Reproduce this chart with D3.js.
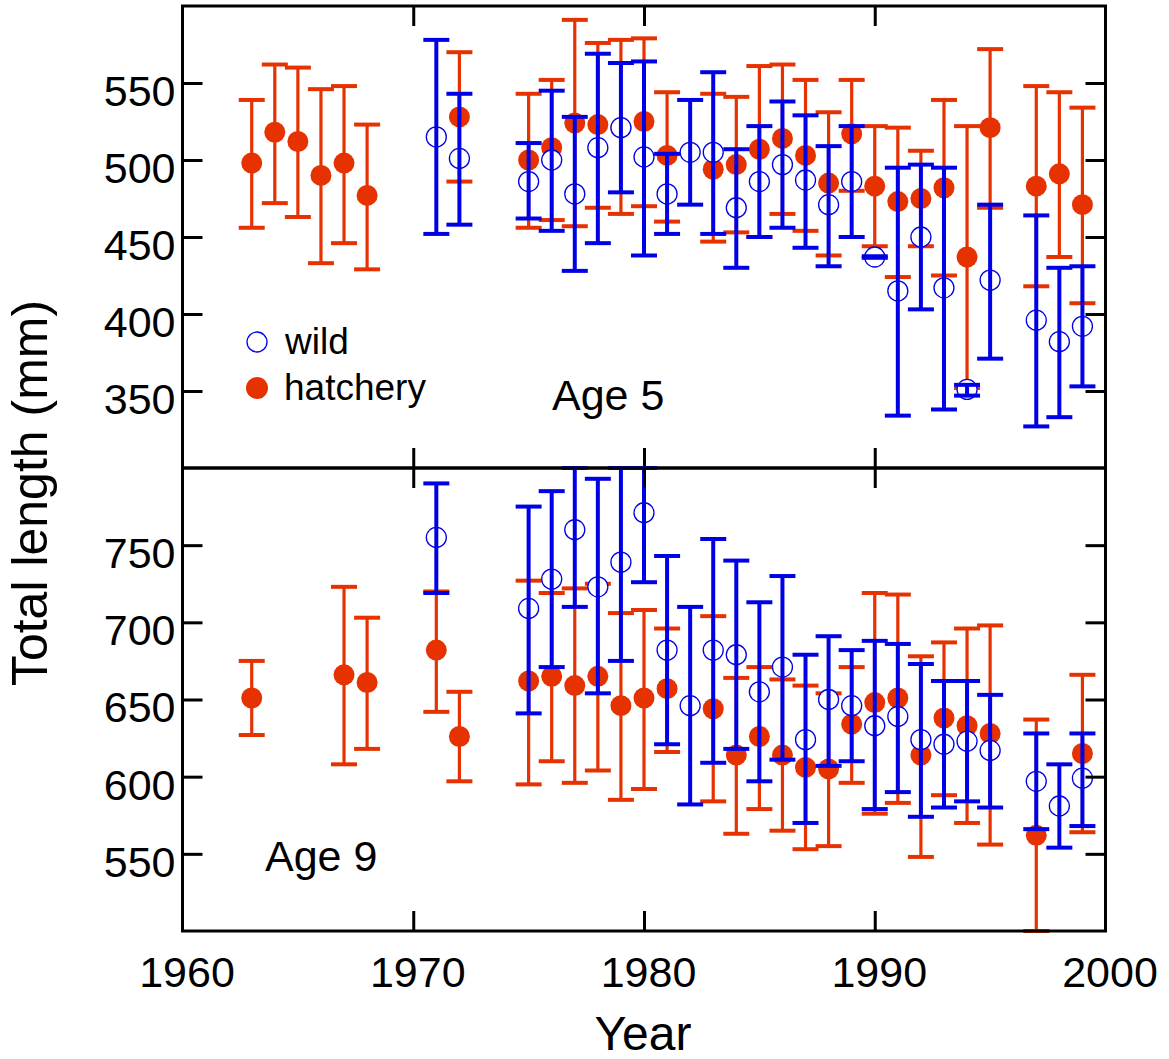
<!DOCTYPE html>
<html>
<head>
<meta charset="utf-8">
<script src="https://cdn.jsdelivr.net/npm/d3@7"></script>
<style>
  body { margin: 0; background: #fff; }
  text { font-family: "Liberation Sans", Arial, sans-serif; fill: #000; }
</style>
</head>
<body>
<div id="chart"></div>
<script>
// ---- data (mean, upper and lower bar ends, mm) ----
const age5HatchYears = [1963, 1964, 1965, 1966, 1967, 1968, 1972, 1975, 1976, 1977, 1978, 1979, 1980, 1981, 1983, 1984, 1985, 1986, 1987, 1988, 1989, 1990, 1991, 1992, 1993, 1994, 1995, 1997, 1998, 1999];
const age5HatchMean = [498, 518, 512, 490, 498, 477, 528, 500, 508, 524, 523, 521, 525, 503, 494, 497, 507, 514, 503, 485, 517, 483, 473, 475, 482, 437, 521, 483, 491, 471];
const age5HatchHi = [539, 562, 560, 546, 548, 523, 570, 543, 552, 591, 576, 578, 579, 544, 543, 541, 561, 562, 552, 531, 552, 522, 521, 506, 539, 522, 572, 548, 544, 534];
const age5HatchLo = [456, 472, 463, 433, 446, 429, 486, 456, 461, 457, 469, 465, 470, 460, 447, 453, 450, 465, 454, 438, 480, 444, 424, 444, 425, 352, 469, 418, 437, 407];

const age5WildYears = [1971, 1972, 1975, 1976, 1977, 1978, 1979, 1980, 1981, 1982, 1983, 1984, 1985, 1986, 1987, 1988, 1989, 1990, 1991, 1992, 1993, 1994, 1995, 1997, 1998, 1999];
const age5WildMean = [515, 501, 486, 500, 478, 508, 521, 502, 478, 505, 505, 469, 486, 497, 487, 471, 486, 437, 415, 450, 417, 351, 422, 396, 382, 392];
const age5WildHi = [578, 543, 511, 545, 528, 569, 563, 564, 504, 539, 557, 507, 522, 538, 529, 509, 522, 437.5, 495, 497, 495, 354, 471, 464, 430, 431];
const age5WildLo = [452, 458, 462, 454, 428, 446, 479, 438, 452, 471, 452, 430, 450, 456, 443, 431, 450, 436.5, 334, 403, 338, 347, 371, 327, 333, 353];

const age9HatchYears = [1963, 1967, 1968, 1971, 1972, 1975, 1976, 1977, 1978, 1979, 1980, 1981, 1983, 1984, 1985, 1986, 1987, 1988, 1989, 1990, 1991, 1992, 1993, 1994, 1995, 1997, 1999];
const age9HatchMean = [651, 666, 661, 682, 626, 662, 665, 659, 665, 646, 651, 657, 644, 614, 626, 614, 606, 605, 634, 648, 651, 614, 638, 633, 628, 562, 615];
const age9HatchHi = [675, 723, 703, 720, 655, 727, 719, 722, 725, 706, 708, 696, 704, 664, 671, 663, 659, 654, 671, 719, 718, 678, 687, 696, 698, 637, 666];
const age9HatchLo = [627, 608, 618, 642, 597, 595, 610, 596, 604, 585, 592, 616, 584, 563, 579, 565, 553, 555, 596, 576, 583, 548, 588, 570, 556, 490, 564];

const age9WildYears = [1971, 1975, 1976, 1977, 1978, 1979, 1980, 1981, 1982, 1983, 1984, 1985, 1986, 1987, 1988, 1989, 1990, 1991, 1992, 1993, 1994, 1995, 1997, 1998, 1999];
const age9WildMean = [755, 709, 728, 760, 723, 739, 771, 682, 646, 682, 679, 655, 671, 624, 650, 646, 633, 639, 624, 621, 623, 617, 597, 581, 599];
const age9WildHi = [790, 775, 785, 812, 793, 815, 818, 743, 710, 754, 740, 713, 730, 679, 691, 682, 688, 686, 673, 662, 662, 653, 628, 608, 628];
const age9WildLo = [719, 641, 671, 710, 654, 675, 726, 621, 582, 609, 618, 597, 611, 570, 607, 610, 579, 590, 574, 580, 584, 580, 566, 554, 568];

const yearTicks = [1960, 1970, 1980, 1990, 2000];
const age5Ticks = [350, 400, 450, 500, 550];
const age9Ticks = [550, 600, 650, 700, 750];

const RED = '#e63200';
const BLUE = '#0000e6';

// helper: zip parallel arrays into row objects
const rows = (years, mean, hi, lo) =>
  years.map((year, i) => ({ year, mean: mean[i], hi: hi[i], lo: lo[i] }));

const width = 1169;
const height = 1059;
const left = 182.5;
const right = 1105.5;

const svg = d3
  .select('#chart')
  .append('svg')
  .attr('width', width)
  .attr('height', height);

const x = d3.scaleLinear().domain([1960, 2000]).range([left, right]);

const panels = [
  {
    label: 'Age 5',
    labelPos: [552, 410],
    top: 6,
    bottom: 468,
    domain: [300, 600],
    ticks: age5Ticks,
    hatch: rows(age5HatchYears, age5HatchMean, age5HatchHi, age5HatchLo),
    wild: rows(age5WildYears, age5WildMean, age5WildHi, age5WildLo),
  },
  {
    label: 'Age 9',
    labelPos: [265, 871],
    top: 468,
    bottom: 931,
    domain: [500, 800],
    ticks: age9Ticks,
    hatch: rows(age9HatchYears, age9HatchMean, age9HatchHi, age9HatchLo),
    wild: rows(age9WildYears, age9WildMean, age9WildHi, age9WildLo),
  },
];

const capHalf = 13;
const r = 10.5;

// error bars: vertical stem plus two caps, values clamped to the panel
function drawBars(g, data, y, color, stemWidth) {
  const bars = g
    .selectAll(null)
    .data(data)
    .enter()
    .append('g')
    .attr('stroke', color);

  bars
    .append('line')
    .attr('x1', (d) => x(d.year))
    .attr('x2', (d) => x(d.year))
    .attr('y1', (d) => y(d.hi))
    .attr('y2', (d) => y(d.lo))
    .attr('stroke-width', stemWidth);

  ['hi', 'lo'].forEach((k) => {
    bars
      .append('line')
      .attr('x1', (d) => x(d.year) - capHalf)
      .attr('x2', (d) => x(d.year) + capHalf)
      .attr('y1', (d) => y(d[k]))
      .attr('y2', (d) => y(d[k]))
      .attr('stroke-width', 4);
  });
}

panels.forEach((p) => {
  const y = d3.scaleLinear().domain(p.domain).range([p.bottom, p.top]).clamp(true);
  const g = svg.append('g');

  // hatchery bars + dots first, then wild circles and bars on top
  drawBars(g, p.hatch, y, RED, 3.2);

  g.selectAll(null)
    .data(p.hatch)
    .enter()
    .append('circle')
    .attr('cx', (d) => x(d.year))
    .attr('cy', (d) => y(d.mean))
    .attr('r', r)
    .attr('fill', RED);

  g.selectAll(null)
    .data(p.wild)
    .enter()
    .append('circle')
    .attr('cx', (d) => x(d.year))
    .attr('cy', (d) => y(d.mean))
    .attr('r', r - 0.5)
    .attr('fill', '#fff')
    .attr('stroke', BLUE)
    .attr('stroke-width', 1.3);

  drawBars(g, p.wild, y, BLUE, 4);

  // inward ticks on all four sides
  const axes = [
    { ax: d3.axisLeft(y).tickValues(p.ticks).tickSize(-20).tickPadding(7), t: `translate(${left},0)` },
    { ax: d3.axisRight(y).tickValues(p.ticks).tickSize(-20).tickFormat(''), t: `translate(${right},0)` },
    { ax: d3.axisTop(x).tickValues([1970, 1980, 1990]).tickSize(-20).tickFormat(''), t: `translate(0,${p.top})` },
    { ax: d3.axisBottom(x).tickValues([1970, 1980, 1990]).tickSize(-20).tickFormat(''), t: `translate(0,${p.bottom})` },
  ];
  axes.forEach(({ ax, t }) => {
    const a = svg.append('g').attr('transform', t).call(ax);
    a.select('.domain').remove();
    a.selectAll('line').attr('stroke', '#000').attr('stroke-width', 3);
    a.selectAll('text')
      .attr('font-size', 43)
      .attr('font-family', '"Liberation Sans", Arial, sans-serif')
      .attr('dy', '0.52em');
  });

  // panel frame
  svg
    .append('rect')
    .attr('x', left)
    .attr('y', p.top)
    .attr('width', right - left)
    .attr('height', p.bottom - p.top)
    .attr('fill', 'none')
    .attr('stroke', '#000')
    .attr('stroke-width', 3);

  svg
    .append('text')
    .attr('x', p.labelPos[0])
    .attr('y', p.labelPos[1])
    .attr('font-size', 43)
    .text(p.label);
});

// year labels under the lower panel
const xAxis = svg
  .append('g')
  .attr('transform', `translate(4,931)`)
  .call(d3.axisBottom(x).tickValues(yearTicks).tickSize(0).tickPadding(0).tickFormat(d3.format('d')));
xAxis.select('.domain').remove();
xAxis
  .selectAll('text')
  .attr('font-size', 43)
  .attr('font-family', '"Liberation Sans", Arial, sans-serif')
  .attr('dy', null)
  .attr('y', 56);

// legend
svg.append('circle').attr('cx', 257).attr('cy', 342).attr('r', 10).attr('fill', '#fff').attr('stroke', BLUE).attr('stroke-width', 1.3);
svg.append('circle').attr('cx', 257).attr('cy', 388).attr('r', 11).attr('fill', RED);
svg.append('text').attr('x', 285).attr('y', 354).attr('font-size', 37).text('wild');
svg.append('text').attr('x', 284).attr('y', 400).attr('font-size', 37).text('hatchery');

// axis titles
svg
  .append('text')
  .attr('x', 643)
  .attr('y', 1050)
  .attr('text-anchor', 'middle')
  .attr('font-size', 48)
  .text('Year');

svg
  .append('text')
  .attr('transform', 'translate(47,493) rotate(-90)')
  .attr('text-anchor', 'middle')
  .attr('font-size', 50)
  .text('Total length (mm)');
</script>
</body>
</html>
